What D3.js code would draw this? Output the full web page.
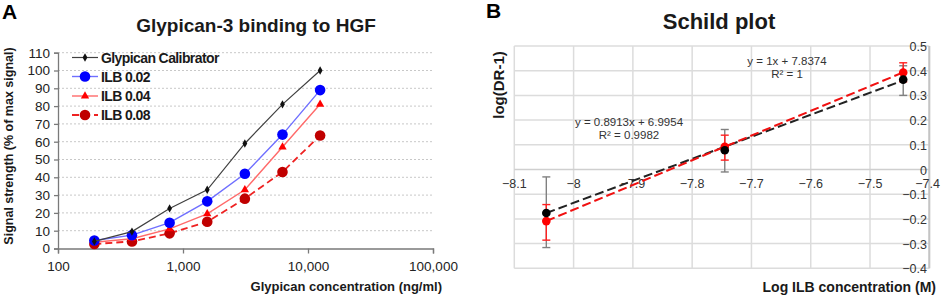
<!DOCTYPE html>
<html>
<head>
<meta charset="utf-8">
<script src="https://cdn.jsdelivr.net/npm/d3@7"></script>
<style>
  body { margin: 0; background: #fff; }
  svg { display: block; font-family: Arial, "Liberation Sans", sans-serif; }
</style>
</head>
<body>
<svg id="chart" width="941" height="299"></svg>
<script>
// ---- panel A data ----
var concentrations = [195.3, 390.6, 781.3, 1562.5, 3125, 6250, 12500];
var calibrator = [4, 9.5, 22.5, 33, 59, 81, 100];
var ilb002 = [4.5, 7.5, 14.5, 26.5, 42, 64, 89];
var ilb004 = [3.5, 5.5, 11, 19.5, 33, 57, 81];
var ilb008 = [2.5, 4, 8.5, 15, 28, 43, 63.5];
var yTicksA = [0, 10, 20, 30, 40, 50, 60, 70, 80, 90, 100, 110];
var xTicksA = [100, 1000, 10000, 100000];

// ---- panel B data ----
var logIlb = [-8.046, -7.745, -7.444];
var schildBlack = [-0.176, 0.078, 0.364];
var blackLow = [-0.316, -0.01, 0.30];
var blackHigh = [-0.03, 0.162, 0.42];
var schildRed = [-0.209, 0.092, 0.393];
var redLow = [-0.286, 0.038, 0.355];
var redHigh = [-0.142, 0.139, 0.432];
var fitBlack = [0.8913, 6.9954];
var fitRed = [1, 7.8374];
var xTicksB = [-8.1, -8, -7.9, -7.8, -7.7, -7.6, -7.5, -7.4];
var yTicksB = [-0.4, -0.3, -0.2, -0.1, 0, 0.1, 0.2, 0.3, 0.4, 0.5];

var svg = d3.select("#chart");

// =================== panel A ===================
var xA = d3.scaleLog().domain([100, 100000]).range([58, 433]);
var yA = d3.scaleLinear().domain([0, 110]).range([248.5, 52.7]);

svg.append("text").attr("x", 2).attr("y", 19)
  .style("font-size", "21px").style("font-weight", "bold").text("A");
svg.append("text").attr("x", 256).attr("y", 32).attr("text-anchor", "middle")
  .style("font-size", "19px").style("font-weight", "bold").attr("fill", "#1a1a1a")
  .text("Glypican-3 binding to HGF");

// dotted grid
svg.append("g").selectAll("line").data(yTicksA.filter(d => d > 0)).join("line")
  .attr("x1", xA(100)).attr("x2", xA(100000))
  .attr("y1", d => yA(d)).attr("y2", d => yA(d))
  .attr("stroke", "#c8c8c8").attr("stroke-width", 1).attr("stroke-dasharray", "2,2");

var axLeftA = svg.append("g").attr("transform", "translate(" + xA(100) + ",0)")
  .call(d3.axisLeft(yA).tickValues(yTicksA).tickSize(4).tickPadding(4));
var axBottomA = svg.append("g").attr("transform", "translate(0," + yA(0) + ")")
  .call(d3.axisBottom(xA).tickValues(xTicksA).tickFormat(d3.format(",")).tickSize(5).tickPadding(8));
[axLeftA, axBottomA].forEach(g => {
  g.select(".domain").attr("stroke", "#7a7a7a").attr("stroke-width", 1.3);
  g.selectAll(".tick line").attr("stroke", "#7a7a7a").attr("stroke-width", 1.3);
  g.selectAll("text").style("font-size", "13.5px").attr("fill", "#222").style("font-family", "Arial, 'Liberation Sans', sans-serif");
});

svg.append("text").attr("transform", "translate(13,146) rotate(-90)")
  .attr("text-anchor", "middle").style("font-size", "12.5px").style("font-weight", "bold")
  .attr("fill", "#1a1a1a").text("Signal strength (% of max signal)");
svg.append("text").attr("x", 442).attr("y", 291).attr("text-anchor", "end")
  .style("font-size", "13px").style("font-weight", "bold").attr("fill", "#1a1a1a")
  .text("Glypican concentration (ng/ml)");

var seriesA = [
  {name: "Glypican Calibrator", values: calibrator, line: "#404040", mark: "#111", shape: "diamond", dash: null, w: 1.2},
  {name: "ILB 0.02", values: ilb002, line: "#6f6fff", mark: "#0000ff", shape: "circle", dash: null, w: 1.4},
  {name: "ILB 0.04", values: ilb004, line: "#ff6a6a", mark: "#ff0000", shape: "triangle", dash: null, w: 1.4},
  {name: "ILB 0.08", values: ilb008, line: "#ee2222", mark: "#c00000", shape: "circle", dash: "7,4", w: 1.8}
];

function marker(g, s, x, y) {
  if (s.shape === "circle") {
    g.append("circle").attr("cx", x).attr("cy", y).attr("r", 5.3).attr("fill", s.mark);
  } else if (s.shape === "triangle") {
    g.append("path").attr("transform", "translate(" + x + "," + y + ")")
      .attr("d", d3.symbol(d3.symbolTriangle, 30)()).attr("fill", s.mark);
  } else {
    g.append("path").attr("transform", "translate(" + x + "," + y + ")")
      .attr("d", d3.symbol(d3.symbolDiamond, 20)()).attr("fill", s.mark);
  }
}

var lineA = d3.line().x((d, i) => xA(concentrations[i])).y(d => yA(d));
seriesA.slice().reverse().forEach(s => {
  var g = svg.append("g");
  g.append("path").datum(s.values).attr("d", lineA).attr("fill", "none")
    .attr("stroke", s.line).attr("stroke-width", s.w)
    .attr("stroke-dasharray", s.dash);
  s.values.forEach((v, i) => marker(g, s, xA(concentrations[i]), yA(v)));
});

// legend
var legendY = [57.5, 76.5, 96, 115];
seriesA.forEach((s, i) => {
  var g = svg.append("g");
  g.append("line").attr("x1", 72).attr("x2", 98).attr("y1", legendY[i]).attr("y2", legendY[i])
    .attr("stroke", s.line).attr("stroke-width", s.w).attr("stroke-dasharray", s.dash);
  marker(g, s, 85, legendY[i]);
  g.append("text").attr("x", 101).attr("y", legendY[i] + 5)
    .style("font-size", "14px").style("font-weight", "bold").style("letter-spacing", "-0.6px")
    .attr("fill", "#1a1a1a").text(s.name);
});

// =================== panel B ===================
var xB = d3.scaleLinear().domain([-8.1, -7.4]).range([514.3, 929.3]);
var yB = d3.scaleLinear().domain([-0.4, 0.5]).range([268.3, 46]);

svg.append("text").attr("x", 486).attr("y", 18)
  .style("font-size", "21px").style("font-weight", "bold").text("B");
svg.append("text").attr("x", 719).attr("y", 29).attr("text-anchor", "middle")
  .style("font-size", "22px").style("font-weight", "bold").attr("fill", "#1a1a1a")
  .text("Schild plot");

var gridB = svg.append("g");
gridB.selectAll(".v").data(xTicksB).join("line").attr("class", "v")
  .attr("x1", d => xB(d)).attr("x2", d => xB(d)).attr("y1", yB(0.5)).attr("y2", yB(-0.4))
  .attr("stroke", "#dcdcdc").attr("stroke-width", 1.5);
gridB.selectAll(".h").data(yTicksB).join("line").attr("class", "h")
  .attr("x1", xB(-8.1)).attr("x2", xB(-7.4)).attr("y1", d => yB(d)).attr("y2", d => yB(d))
  .attr("stroke", d => d === 0 ? "#cfcfcf" : "#dcdcdc").attr("stroke-width", 1.5);
// right axis line at x = -7.4
svg.append("line").attr("x1", xB(-7.4)).attr("x2", xB(-7.4)).attr("y1", yB(0.5)).attr("y2", yB(-0.4))
  .attr("stroke", "#c4c4c4").attr("stroke-width", 2);

// tick labels
svg.append("g").selectAll("text").data(xTicksB).join("text")
  .attr("x", d => d === -7.4 ? 940 : xB(d)).attr("y", yB(0) + 18)
  .attr("text-anchor", d => d === -7.4 ? "end" : "middle")
  .style("font-size", "12.5px").attr("fill", "#333").text(d => d3.format("")(d));
svg.append("g").selectAll("text").data(yTicksB).join("text")
  .attr("x", 927).attr("y", d => yB(d) + 5).attr("text-anchor", "end")
  .style("font-size", "12.5px").attr("fill", "#333").text(d => d3.format("")(d));

svg.append("text").attr("transform", "translate(504,85) rotate(-90)")
  .attr("text-anchor", "middle").style("font-size", "15px").style("font-weight", "bold")
  .attr("fill", "#1a1a1a").text("log(DR-1)");
svg.append("text").attr("x", 936).attr("y", 292).attr("text-anchor", "end")
  .style("font-size", "14px").style("font-weight", "bold").attr("fill", "#1a1a1a")
  .text("Log ILB concentration (M)");

// fit lines (from the equations shown on the chart)
var xRange = d3.extent(logIlb);
[[fitBlack, "#222"], [fitRed, "#f01010"]].forEach(f => {
  var p = f[0];
  svg.append("line")
    .attr("x1", xB(xRange[0])).attr("y1", yB(p[0] * xRange[0] + p[1]))
    .attr("x2", xB(xRange[1])).attr("y2", yB(p[0] * xRange[1] + p[1]))
    .attr("stroke", f[1]).attr("stroke-width", 2).attr("stroke-dasharray", "9,4");
});

function errorBars(lo, hi, color) {
  var g = svg.append("g").attr("stroke", color).attr("stroke-width", 1.4);
  logIlb.forEach((x, i) => {
    g.append("line").attr("x1", xB(x)).attr("x2", xB(x)).attr("y1", yB(lo[i])).attr("y2", yB(hi[i]));
    [lo[i], hi[i]].forEach(v => g.append("line")
      .attr("x1", xB(x) - 4).attr("x2", xB(x) + 4).attr("y1", yB(v)).attr("y2", yB(v)));
  });
}
errorBars(blackLow, blackHigh, "#808080");
errorBars(redLow, redHigh, "#ff2020");

svg.append("g").selectAll("circle").data(schildRed).join("circle")
  .attr("cx", (d, i) => xB(logIlb[i])).attr("cy", d => yB(d)).attr("r", 4.3).attr("fill", "#ff0000");
svg.append("g").selectAll("circle").data(schildBlack).join("circle")
  .attr("cx", (d, i) => xB(logIlb[i])).attr("cy", d => yB(d)).attr("r", 4.3).attr("fill", "#000");

// equation labels
var eq = svg.append("g").attr("text-anchor", "middle").style("font-size", "11.5px").attr("fill", "#333");
eq.append("text").attr("x", 787).attr("y", 65).text("y = 1x + 7.8374");
eq.append("text").attr("x", 787).attr("y", 78).text("R² = 1");
eq.append("text").attr("x", 629).attr("y", 126).text("y = 0.8913x + 6.9954");
eq.append("text").attr("x", 629).attr("y", 139).text("R² = 0.9982");
</script>
</body>
</html>
